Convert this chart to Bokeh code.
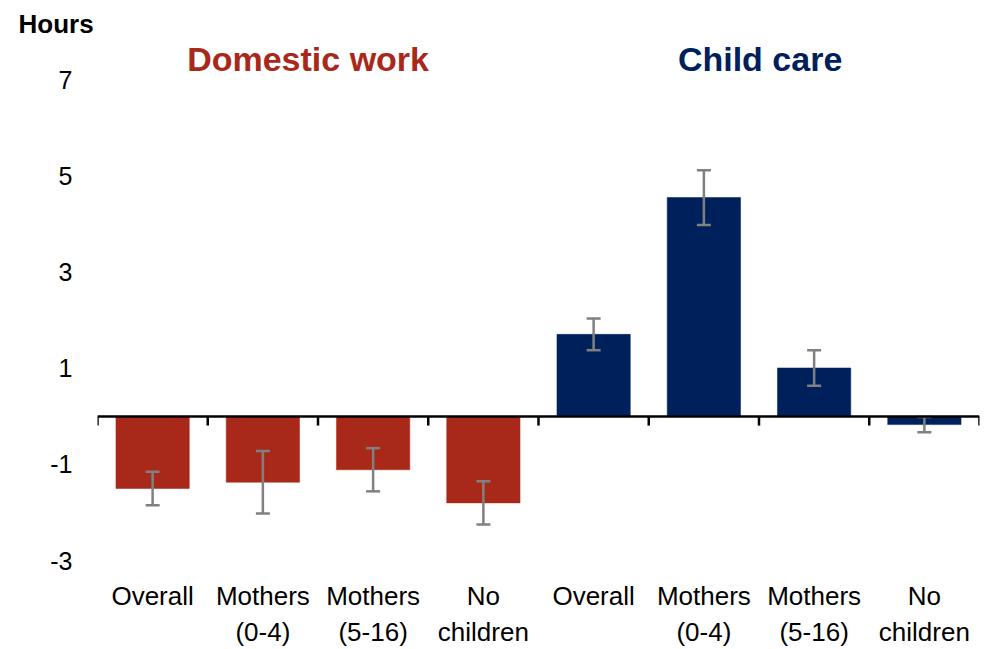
from bokeh.plotting import figure
from bokeh.models import (ColumnDataSource, FixedTicker, Range1d, Span, Whisker,
                          TeeHead, Label)
from bokeh.embed import file_html
from bokeh.resources import INLINE
import numpy as np

# Change in hours per day, by group
groups = ["Overall", "Mothers\n(0-4)", "Mothers\n(5-16)", "No\nchildren"]
domestic_work = [-1.50, -1.37, -1.11, -1.80]
domestic_err = [0.35, 0.65, 0.45, 0.45]
child_care = [1.71, 4.56, 1.01, -0.17]
child_care_err = [0.33, 0.57, 0.37, 0.16]
y_ticks = [-3, -1, 1, 3, 5, 7]

RED = "#A8281A"
NAVY = "#00205B"
GREY = "#808080"
FONT = "Liberation Sans"

n = len(groups)
labels = groups + groups
values = domestic_work + child_care
errors = domestic_err + child_care_err
colors = [RED] * n + [NAVY] * n
x = np.arange(len(values)) + 0.5

src = ColumnDataSource(dict(
    x=x, top=values, color=colors,
    upper=np.array(values) + np.array(errors),
    lower=np.array(values) - np.array(errors),
))

# the frame starts just under the unit title so the headings sit inside it
PX_PER_UNIT = 48.2
FRAME_TOP = 42
y_top = y_ticks[-1] + (80 - FRAME_TOP) / PX_PER_UNIT

p = figure(width=989, height=649, output_backend="svg", toolbar_location=None,
           x_range=Range1d(0, len(values)), y_range=Range1d(y_ticks[0], y_top),
           min_border_left=97, min_border_right=10, min_border_top=FRAME_TOP,
           min_border_bottom=87, title="Hours", title_location="above")
p.outline_line_color = None
p.grid.visible = False
p.background_fill_color = "white"
p.border_fill_color = "white"

p.title.align = "left"
p.title.offset = -79
p.title.standoff = 8
p.title.text_font = FONT
p.title.text_font_size = "26px"
p.title.text_font_style = "bold"
p.title.text_color = "black"

p.vbar(x="x", top="top", bottom=0, width=0.665, source=src,
       fill_color="color", line_color="color", line_width=0.5)

p.add_layout(Whisker(source=src, base="x", upper="upper", lower="lower",
                     level="annotation",
                     line_color=GREY, line_width=2.5,
                     upper_head=TeeHead(size=14, line_color=GREY, line_width=2.5),
                     lower_head=TeeHead(size=14, line_color=GREY, line_width=2.5)))

# zero line with boundary ticks between groups
bounds = np.arange(len(values) + 1)
p.segment(x0=bounds, x1=bounds, y0=np.zeros_like(bounds), y1=np.full(len(bounds), -0.19),
          line_color="black", line_width=2.5)
p.add_layout(Span(location=0, dimension="width", line_color="black", line_width=2.5,
                  level="annotation"))

# axes
yax = p.yaxis[0]
yax.ticker = FixedTicker(ticks=y_ticks)
yax.major_label_overrides = {t: str(t) for t in y_ticks}
yax.axis_line_color = None
yax.major_tick_line_color = None
yax.minor_tick_line_color = None
yax.major_tick_out = 0
yax.major_label_standoff = 25
yax.major_label_text_font = FONT
yax.major_label_text_font_size = "25px"
yax.major_label_text_color = "black"

xax = p.xaxis[0]
xax.ticker = FixedTicker(ticks=list(x))
xax.major_label_overrides = {float(xi): lab for xi, lab in zip(x, labels)}
xax.axis_line_color = None
xax.major_tick_line_color = None
xax.minor_tick_line_color = None
xax.major_tick_out = 0
xax.major_label_standoff = 20
xax.major_label_text_font = FONT
xax.major_label_text_font_size = "26px"
xax.major_label_text_color = "black"

# panel headings
p.add_layout(Label(x=1.91, y=7.44, text="Domestic work", text_align="center",
                   text_baseline="middle", text_font=FONT, text_font_size="34px",
                   text_font_style="bold", text_color=RED))
p.add_layout(Label(x=6.01, y=7.44, text="Child care", text_align="center",
                   text_baseline="middle", text_font=FONT, text_font_size="34px",
                   text_font_style="bold", text_color=NAVY))

open("out.html", "w").write(file_html(p, INLINE))
